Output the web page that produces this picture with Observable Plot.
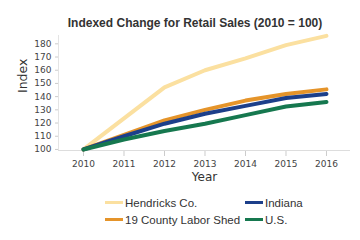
<!DOCTYPE html>
<html><head><meta charset="utf-8">
<script src="https://cdn.jsdelivr.net/npm/d3@7"></script>
<script src="https://cdn.jsdelivr.net/npm/@observablehq/plot@0.6"></script>
<style>
body{margin:0;background:#fff;}
#wrap{position:relative;width:360px;height:240px;overflow:hidden;}
#title{position:absolute;left:0;top:16px;width:360px;padding-left:30px;box-sizing:border-box;text-align:center;font:bold 12px "Liberation Sans",Arial,sans-serif;color:#333;}
#chart{position:absolute;left:0;top:30px;}
#chart svg g[aria-label="x-axis tick"] path,#chart svg g[aria-label="y-axis tick"] path{stroke:#ccc;}
.leg{position:absolute;font:11.5px "Liberation Sans",Arial,sans-serif;color:#333;white-space:nowrap;line-height:14px;}
.sw{display:inline-block;width:18px;height:3px;vertical-align:middle;margin-right:2px;position:relative;top:-1px;}
</style></head><body>
<div id="wrap">
<div id="title">Indexed Change for Retail Sales (2010 = 100)</div>
<div id="chart"></div>
<div id="legend"></div>
</div>
<script>
const years = [2010, 2011, 2012, 2013, 2014, 2015, 2016];
const seriesNames = ["Hendricks Co.", "19 County Labor Shed", "Indiana", "U.S."];
const hendricks = [100, 123.5, 147, 160, 169, 179, 186];
const laborShed = [100, 111, 122, 130, 137, 142, 145.5];
const indiana = [100, 110, 119.5, 127, 133, 139, 142];
const us = [100, 107.5, 114, 119.5, 126, 132.5, 136];
const colors = ["#FBE0A0", "#E5942A", "#1C3F8A", "#16784F"];
const yTicks = [100, 110, 120, 130, 140, 150, 160, 170, 180];

const valuesBySeries = [hendricks, laborShed, indiana, us];
const data = [];
seriesNames.forEach((s, i) => years.forEach((y, j) => data.push({series: s, year: y, value: valuesBySeries[i][j]})));

const chart = Plot.plot({
  width: 360, height: 160,
  marginTop: 5, marginBottom: 40, marginLeft: 58, marginRight: 10,
  style: {fontFamily: "'DejaVu Sans', sans-serif", fontSize: "9px", color: "#444", background: "transparent"},
  x: {domain: [2009.383, 2016.593], ticks: years, tickFormat: "d", tickSize: 6, tickPadding: 4, label: null},
  y: {domain: [99.2, 186.3], ticks: yTicks, tickSize: 3, tickPadding: 4, label: null},
  color: {domain: seriesNames, range: colors},
  marks: [
    Plot.ruleY([99.2], {stroke: "#ddd"}),
    Plot.ruleX([2009.383], {stroke: "#e4e4e4"}),
    Plot.line(data, {x: "year", y: "value", z: "series", stroke: "series", strokeWidth: 4, strokeLinejoin: "round"}),
    Plot.text(["Year"], {frameAnchor: "bottom", dy: 30, fontSize: 12, fill: "#333"}),
    Plot.text(["Index"], {frameAnchor: "left", dx: -36, rotate: -90, fontSize: 12.5, fill: "#333"})
  ]
});
document.getElementById("chart").appendChild(chart);

const legPos = [[105, 196], [105, 213], [245, 196], [245, 213]];
const legend = document.getElementById("legend");
seriesNames.forEach((s, i) => {
  const d = document.createElement("div");
  d.className = "leg";
  d.style.left = legPos[i][0] + "px";
  d.style.top = legPos[i][1] + "px";
  d.innerHTML = `<span class="sw" style="background:${colors[i]}"></span>${s}`;
  legend.appendChild(d);
});
</script>
</body></html>
